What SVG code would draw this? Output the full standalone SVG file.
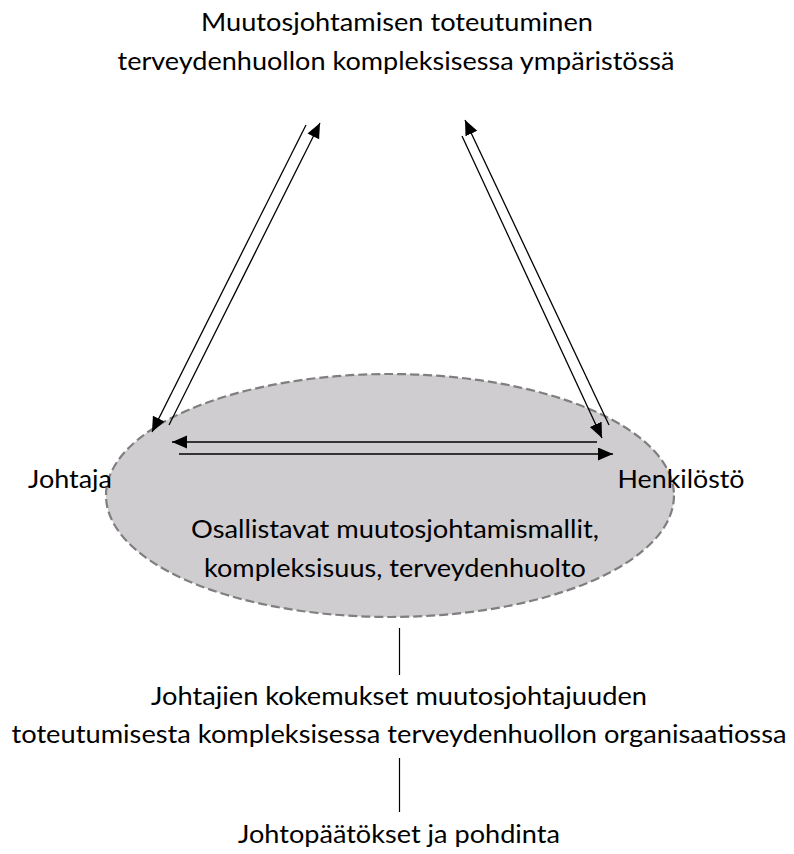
<svg xmlns="http://www.w3.org/2000/svg" width="794" height="854" viewBox="0 0 794 854">
<style>
text{font-family:Lato,"Open Sans","Liberation Sans",sans-serif;font-size:25px;fill:#000;text-anchor:middle}
.conn{stroke:#000;stroke-width:1.3;fill:none}
.arr{marker-end:url(#ah)}
.vline{stroke:#000;stroke-width:1.2}
</style>
<defs>
<marker id="ah" markerUnits="userSpaceOnUse" markerWidth="16" markerHeight="14" refX="15" refY="6.5" orient="auto">
<path d="M0,0 L15,6.5 L0,13 z" fill="#000"/>
</marker>
</defs>
<rect width="794" height="854" fill="#fff"/>
<g id="ellipse-node">
<ellipse cx="390" cy="495.5" rx="284" ry="121.5" fill="#cfcdcf" stroke="#7f7f7f" stroke-width="2.2" stroke-dasharray="9,4"/>
<text x="395" y="538" textLength="408" lengthAdjust="spacingAndGlyphs">Osallistavat muutosjohtamismallit,</text>
<text x="395" y="577" textLength="382" lengthAdjust="spacingAndGlyphs">kompleksisuus, terveydenhuolto</text>
</g>
<g id="title-node">
<text x="397" y="31" textLength="392" lengthAdjust="spacingAndGlyphs">Muutosjohtamisen toteutuminen</text>
<text x="396" y="70" textLength="557" lengthAdjust="spacingAndGlyphs">terveydenhuollon kompleksisessa ympäristössä</text>
</g>
<g id="johtaja-node">
<text x="70" y="488" textLength="84" lengthAdjust="spacingAndGlyphs">Johtaja</text>
</g>
<g id="henkilosto-node">
<text x="681" y="488" textLength="127" lengthAdjust="spacingAndGlyphs">Henkilöstö</text>
</g>
<g id="kokemukset-node">
<text x="399" y="705" textLength="496" lengthAdjust="spacingAndGlyphs">Johtajien kokemukset muutosjohtajuuden</text>
<text x="399" y="743" textLength="775" lengthAdjust="spacingAndGlyphs">toteutumisesta kompleksisessa terveydenhuollon organisaatiossa</text>
</g>
<g id="johtopaatokset-node">
<text x="399" y="843" textLength="322" lengthAdjust="spacingAndGlyphs">Johtopäätökset ja pohdinta</text>
</g>
<g id="connectors">
<line class="conn arr" x1="306" y1="125" x2="152" y2="432"/>
<line class="conn arr" x1="169" y1="425" x2="320" y2="123"/>
<line class="conn arr" x1="609" y1="425" x2="465" y2="120"/>
<line class="conn arr" x1="462" y1="136" x2="602" y2="438"/>
<line class="conn arr" x1="597" y1="442" x2="172" y2="442"/>
<line class="conn arr" x1="179" y1="454" x2="613" y2="454"/>
<line class="vline" x1="399.5" y1="628" x2="399.5" y2="675"/>
<line class="vline" x1="399.5" y1="758" x2="399.5" y2="812"/>
</g>
</svg>
